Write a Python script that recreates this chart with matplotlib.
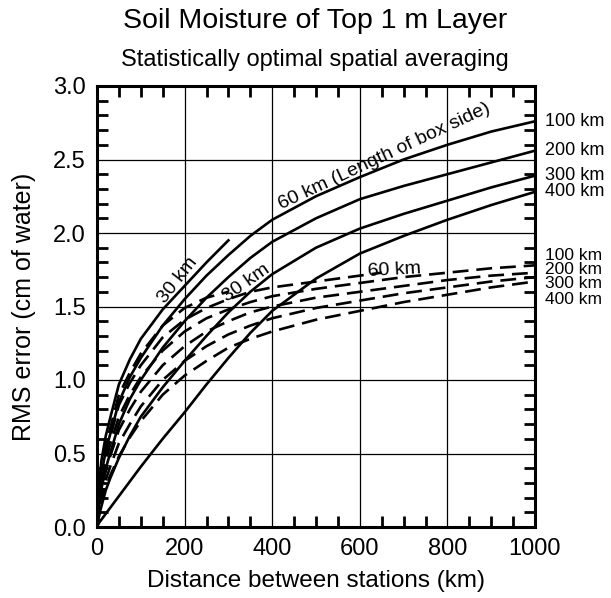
import matplotlib
matplotlib.use("Agg")
import matplotlib.pyplot as plt
from matplotlib.ticker import MultipleLocator

plt.rcParams['font.family'] = ['Liberation Sans', 'DejaVu Sans']

# Distances (km) at which the long curves were read
dist = [0, 5, 10, 20, 30, 50, 75, 100, 150, 200, 250, 300, 350, 400, 500, 600, 700, 800, 900, 1000]

# Solid curves (box side length)
s30_x = [0, 5, 10, 20, 30, 50, 75, 100, 150, 200, 250, 300]
s30_y = [0, 0.3, 0.45, 0.62, 0.74, 0.97, 1.14, 1.28, 1.48, 1.64, 1.8, 1.95]
s100 = [0, 0.22, 0.36, 0.52, 0.63, 0.85, 1.02, 1.15, 1.37, 1.55, 1.71, 1.85, 1.98, 2.09, 2.25, 2.38, 2.5, 2.6, 2.69, 2.76]
s200 = [0, 0.15, 0.26, 0.4, 0.5, 0.7, 0.87, 1.0, 1.22, 1.4, 1.56, 1.7, 1.83, 1.94, 2.1, 2.23, 2.32, 2.4, 2.48, 2.56]
s300 = [0, 0.08, 0.14, 0.25, 0.33, 0.47, 0.62, 0.75, 0.95, 1.13, 1.3, 1.46, 1.6, 1.72, 1.9, 2.03, 2.13, 2.22, 2.31, 2.39]
s400 = [0, 0.03, 0.05, 0.09, 0.13, 0.21, 0.31, 0.41, 0.6, 0.78, 0.97, 1.15, 1.32, 1.47, 1.69, 1.86, 1.98, 2.09, 2.19, 2.28]

# Dashed curves
d30_x = [0, 5, 10, 20, 30, 50, 75, 100, 150, 200, 250, 300]
d30_y = [0, 0.26, 0.4, 0.56, 0.67, 0.9, 1.05, 1.18, 1.37, 1.49, 1.56, 1.6]
d60_x = [0, 5, 10, 20, 30, 50, 75, 100, 150, 200, 250, 300, 350, 400, 500, 600, 650]
d60_y = [0, 0.22, 0.35, 0.5, 0.61, 0.83, 0.98, 1.1, 1.29, 1.41, 1.49, 1.55, 1.6, 1.63, 1.67, 1.71, 1.73]
d100 = [0, 0.18, 0.3, 0.45, 0.56, 0.75, 0.9, 1.02, 1.2, 1.33, 1.42, 1.48, 1.53, 1.57, 1.62, 1.66, 1.7, 1.73, 1.76, 1.78]
d200 = [0, 0.14, 0.25, 0.38, 0.48, 0.66, 0.8, 0.92, 1.1, 1.23, 1.33, 1.4, 1.46, 1.5, 1.56, 1.6, 1.64, 1.68, 1.71, 1.73]
d300 = [0, 0.11, 0.2, 0.32, 0.41, 0.57, 0.7, 0.82, 1.0, 1.13, 1.23, 1.31, 1.37, 1.42, 1.49, 1.54, 1.59, 1.63, 1.67, 1.7]
d400 = [0, 0.09, 0.16, 0.27, 0.35, 0.48, 0.61, 0.72, 0.9, 1.03, 1.13, 1.22, 1.28, 1.33, 1.41, 1.47, 1.53, 1.58, 1.63, 1.67]

right_labels = ["100 km", "200 km", "300 km", "400 km"]
dashed_label_y = [1.85, 1.755, 1.655, 1.545]

fig = plt.figure(figsize=(6.11, 5.98), dpi=100)
ax = fig.add_axes([97/611, 1-527/598, 438/611, 441/598])

lw = 1.9
dash = (0, (6, 3))
ax.plot(s30_x, s30_y, color='black', lw=lw)
for y in (s100, s200, s300, s400):
    ax.plot(dist, y, color='black', lw=lw)
ax.plot(d30_x, d30_y, color='black', lw=lw, linestyle=dash)
ax.plot(d60_x, d60_y, color='black', lw=lw, linestyle=dash)
for y in (d100, d200, d300, d400):
    ax.plot(dist, y, color='black', lw=lw, linestyle=dash)

ax.set_xlim(0, 1000)
ax.set_ylim(0, 3.0)
ax.xaxis.set_major_locator(MultipleLocator(200))
ax.xaxis.set_minor_locator(MultipleLocator(50))
ax.yaxis.set_major_locator(MultipleLocator(0.5))
ax.yaxis.set_minor_locator(MultipleLocator(0.1))
ax.yaxis.set_major_formatter(plt.FuncFormatter(lambda v, p: f"{v:.1f}"))
ax.grid(True, which='major', color='black', lw=0.9)
ax.tick_params(which='both', direction='in', top=True, right=True, labelsize=17,
               width=2, color='black')
ax.tick_params(which='major', length=0, pad=8)
ax.tick_params(which='minor', length=8)
for s in ax.spines.values():
    s.set_linewidth(2.2)

ax.set_xlabel("Distance between stations (km)", fontsize=17.5, labelpad=7)
ax.set_ylabel("RMS error (cm of water)", fontsize=18, labelpad=12)

fig.text(0.516, 0.965, "Soil Moisture of Top 1 m Layer", fontsize=20.5, ha='center', va='center')
fig.text(0.516, 0.9, "Statistically optimal spatial averaging", fontsize=17, ha='center', va='center')

# right-hand labels
for lab, yv in zip(right_labels, [s100[-1], s200[-1], s300[-1], s400[-1]]):
    ax.annotate(lab, xy=(1000, yv), xytext=(7, 0), textcoords='offset points',
                fontsize=13, va='center', ha='left', annotation_clip=False)
for lab, yv in zip(right_labels, dashed_label_y):
    ax.annotate(lab, xy=(1000, yv), xytext=(7, 0), textcoords='offset points',
                fontsize=12.5, va='center', ha='left', annotation_clip=False)

ax.text(185, 1.68, "30 km", fontsize=14, rotation=52, ha='center', va='center')
ax.text(340, 1.66, "30 km", fontsize=14, rotation=35, ha='center', va='center')
ax.text(655, 2.52, "60 km (Length of box side)", fontsize=14, rotation=25, ha='center', va='center')
ax.text(680, 1.75, "60 km", fontsize=14, rotation=3, ha='center', va='center')

fig.savefig("out.png", dpi=100)
